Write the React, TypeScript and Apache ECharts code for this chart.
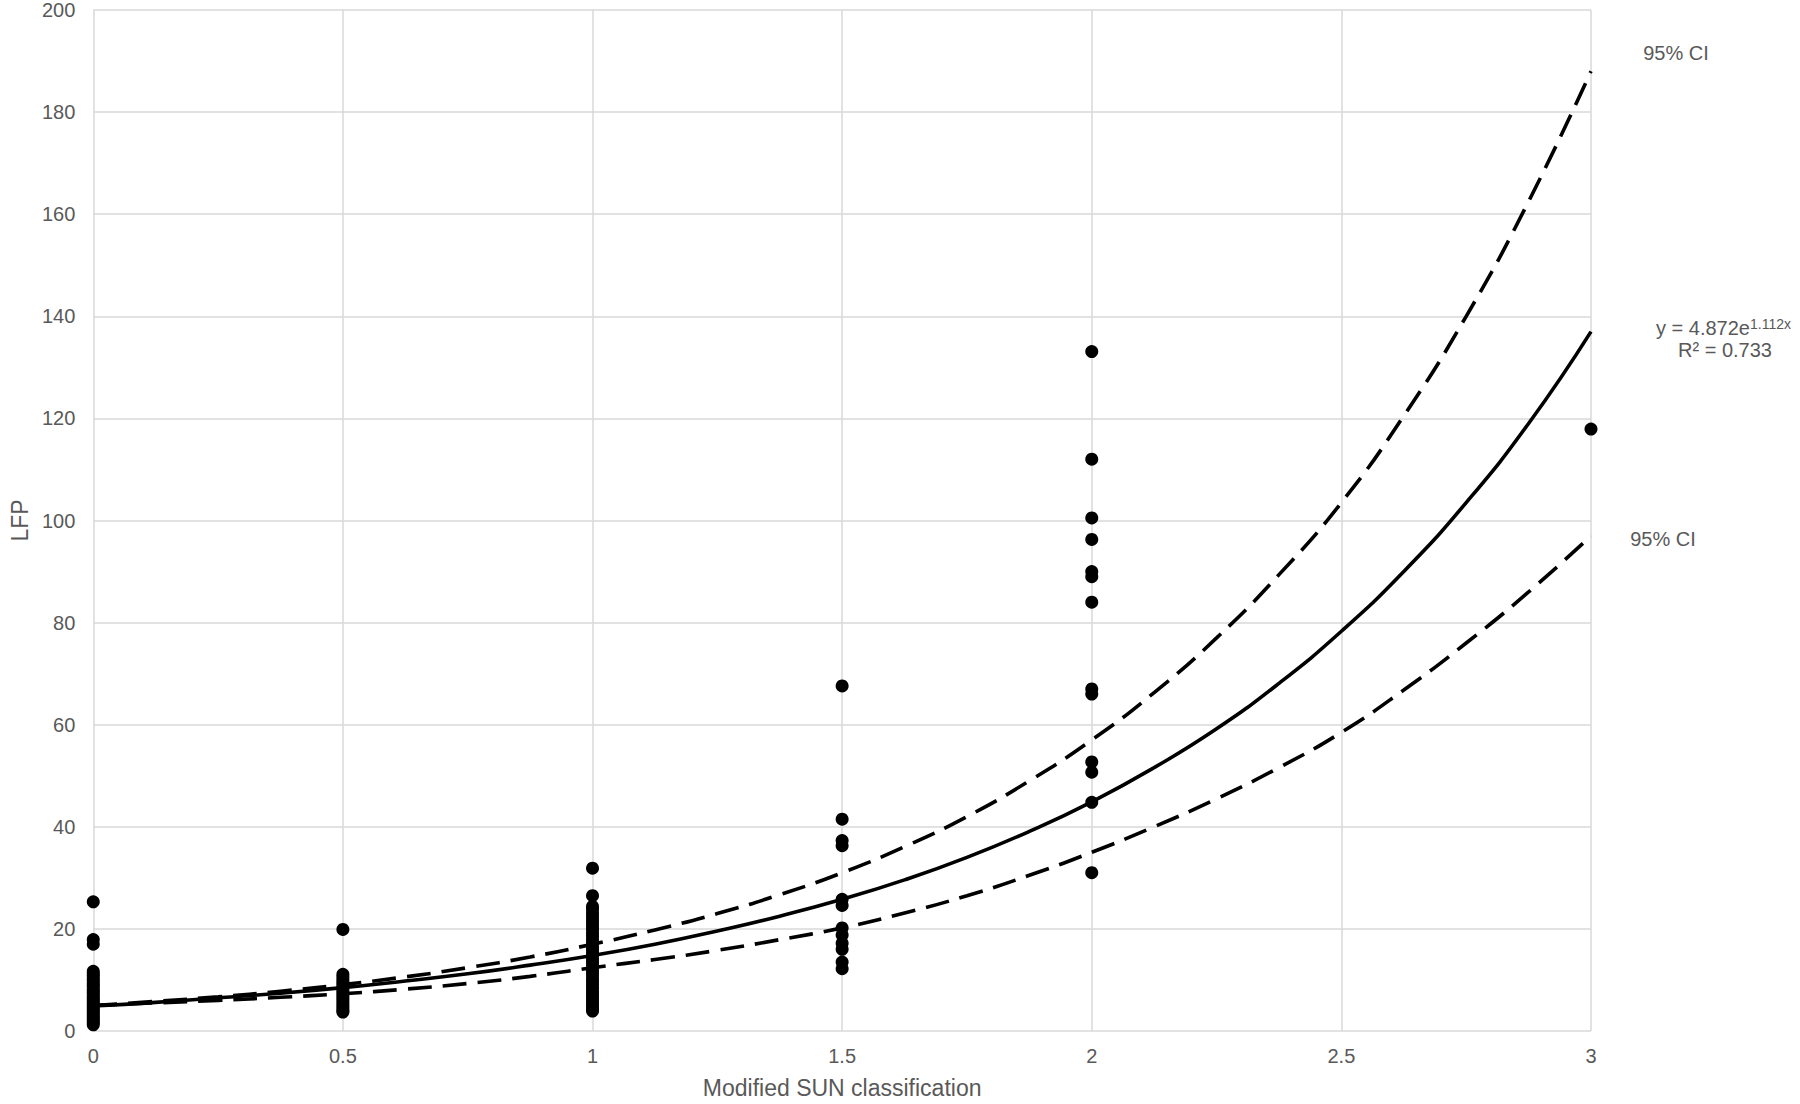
import React, { useEffect, useRef } from "react";
import * as echarts from "echarts";

// Scatter values (LFP) grouped by Modified SUN classification
const lfpAt0 = [25.3, 17.9, 17.0, 11.7, 11.2, 10.8, 10.3, 9.9, 9.4, 9.0, 8.6, 8.1, 7.7, 7.3, 6.8, 6.4, 6.0, 5.6, 5.2, 4.8, 4.4, 4.0, 3.6, 3.2, 2.8, 2.4, 2.0, 1.6, 1.2];
const lfpAt05 = [19.9, 11.1, 10.6, 10.0, 9.5, 9.0, 8.5, 8.0, 7.5, 7.0, 6.5, 6.0, 5.5, 5.0, 4.5, 4.0, 3.7];
const lfpAt1 = [31.9, 26.5, 24.4, 23.9, 23.1, 22.5, 21.8, 21.2, 20.5, 19.9, 19.2, 18.6, 17.9, 17.3, 16.6, 16.0, 15.4, 14.8, 14.1, 13.5, 12.9, 12.2, 11.6, 11.0, 10.3, 9.7, 9.1, 8.4, 7.8, 7.2, 6.6, 6.0, 5.4, 4.8, 4.3, 3.9];
const lfpAt15 = [67.6, 41.5, 37.3, 36.3, 25.8, 24.6, 20.2, 18.8, 17.2, 16.0, 13.5, 12.2];
const lfpAt2 = [133.1, 112.0, 100.5, 96.3, 90.0, 89.0, 84.0, 67.0, 66.0, 52.7, 50.7, 44.8, 31.0];
const lfpAt3 = [117.9];

// Curves at steps of 0.125
const curveX = [0, 0.125, 0.25, 0.375, 0.5, 0.625, 0.75, 0.875, 1, 1.125, 1.25, 1.375, 1.5, 1.625, 1.75, 1.875, 2, 2.125, 2.25, 2.375, 2.5, 2.625, 2.75, 2.875, 3];
const fitY = [4.9, 5.6, 6.5, 7.4, 8.5, 9.8, 11.2, 12.9, 14.8, 17.0, 19.6, 22.5, 25.8, 29.6, 34.0, 39.1, 44.9, 51.6, 59.2, 68.1, 78.3, 90.0, 103.5, 119.0, 137.0];
const upperCI = [5.0, 5.8, 6.7, 7.8, 9.1, 10.6, 12.4, 14.5, 17.0, 19.8, 23.0, 26.7, 31.0, 36.1, 42.0, 49.0, 57.0, 66.3, 77.0, 89.4, 103.5, 120.5, 140.0, 162.5, 188.0];
const lowerCI = [5.0, 5.5, 6.0, 6.6, 7.3, 8.2, 9.3, 10.7, 12.4, 14.0, 15.8, 17.9, 20.2, 23.1, 26.5, 30.5, 35.0, 40.0, 45.5, 51.6, 58.5, 66.8, 76.0, 86.0, 97.0];

const xTicks = { min: 0, max: 3, interval: 0.5 };
const yTicks = { min: 0, max: 200, interval: 20 };

const FONT = "'Liberation Sans', Arial, sans-serif";
const TEXT = "#595959";

export default function App() {
  const ref = useRef<HTMLDivElement>(null);
  useEffect(() => {
    if (!ref.current) return;
    const chart = echarts.init(ref.current, undefined, { renderer: "svg" });
    const groups: [number, number[]][] = [
      [0, lfpAt0],
      [0.5, lfpAt05],
      [1, lfpAt1],
      [1.5, lfpAt15],
      [2, lfpAt2],
      [3, lfpAt3],
    ];
    const scatterData: number[][] = [];
    groups.forEach(([x, ys]) => ys.forEach((y) => scatterData.push([x, y])));
    const pairs = (ys: number[]) => curveX.map((x, i) => [x, ys[i]]);
    const gridLine = { show: true, lineStyle: { color: "#d9d9d9", width: 1.5 } };
    const dashed = { color: "#000", width: 3.6, type: [24, 11] };
    chart.setOption({
      animation: false,
      backgroundColor: "#ffffff",
      textStyle: { fontFamily: FONT },
      grid: { left: 87, top: 10, width: 1504, height: 1027, containLabel: false },
      xAxis: {
        type: "value",
        ...xTicks,
        name: "Modified SUN classification",
        nameLocation: "middle",
        nameGap: 45,
        nameTextStyle: { color: TEXT, fontSize: 23, fontFamily: FONT },
        axisLine: { show: false },
        axisTick: { show: false },
        axisLabel: { color: TEXT, fontSize: 20, margin: 15, fontFamily: FONT },
        splitLine: gridLine,
      },
      yAxis: {
        type: "value",
        ...yTicks,
        name: "LFP",
        nameLocation: "middle",
        nameGap: 60,
        nameTextStyle: { color: TEXT, fontSize: 23, fontFamily: FONT },
        axisLine: { show: false },
        axisTick: { show: false },
        axisLabel: { color: TEXT, fontSize: 20, margin: 18, fontFamily: FONT },
        splitLine: gridLine,
      },
      series: [
        {
          type: "line",
          data: pairs(upperCI),
          smooth: true,
          showSymbol: false,
          lineStyle: dashed,
          z: 2,
        },
        {
          type: "line",
          data: pairs(lowerCI),
          smooth: true,
          showSymbol: false,
          lineStyle: dashed,
          z: 2,
        },
        {
          type: "line",
          data: pairs(fitY),
          smooth: true,
          showSymbol: false,
          lineStyle: { color: "#000", width: 3.6 },
          z: 3,
        },
        {
          type: "scatter",
          data: scatterData,
          symbol: "circle",
          symbolSize: 13,
          itemStyle: { color: "#000", opacity: 1 },
          z: 4,
        },
      ],
      graphic: [
        {
          type: "text",
          x: 1676,
          y: 53,
          style: { text: "95% CI", fill: TEXT, fontSize: 20, fontFamily: FONT, align: "center", verticalAlign: "middle" },
        },
        {
          type: "text",
          x: 1663,
          y: 539,
          style: { text: "95% CI", fill: TEXT, fontSize: 20, fontFamily: FONT, align: "center", verticalAlign: "middle" },
        },
        {
          type: "text",
          x: 1656,
          y: 328,
          style: {
            text: "y = 4.872e{sup|1.112x}",
            fill: TEXT,
            fontSize: 20,
            fontFamily: FONT,
            align: "left",
            verticalAlign: "middle",
            rich: {
              sup: { fontSize: 14, fill: TEXT, fontFamily: FONT, verticalAlign: "top", padding: [0, 0, 8, 0] },
            },
          },
        },
        {
          type: "text",
          x: 1725,
          y: 350,
          style: { text: "R² = 0.733", fill: TEXT, fontSize: 20, fontFamily: FONT, align: "center", verticalAlign: "middle" },
        },
      ],
    });
    return () => chart.dispose();
  }, []);
  return (
    <div
      ref={ref}
      style={{ position: "fixed", left: 0, top: 0, width: 1800, height: 1104, background: "#fff" }}
    />
  );
}
